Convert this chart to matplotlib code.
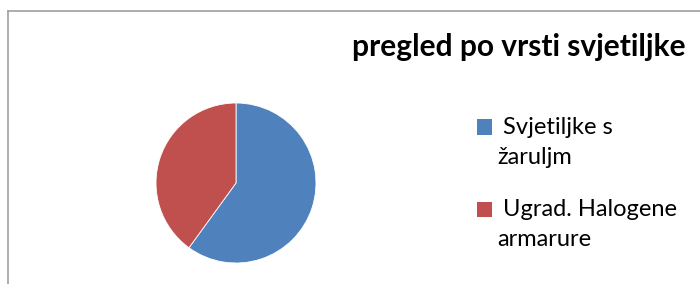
import matplotlib
matplotlib.use("Agg")
import matplotlib.pyplot as plt
from matplotlib.patches import Rectangle
from matplotlib.lines import Line2D

title = "pregled po vrsti svjetiljke"
labels = ["Svjetiljke s\nžaruljm", "Ugrad. Halogene\narmarure"]
values = [60, 40]
colors = ["#4F81BD", "#C0504D"]

W, H = 700, 284
fig = plt.figure(figsize=(7, 2.84), dpi=100)
fig.patch.set_facecolor("white")

def fx(px):
    return px / W

def fy(py):
    return 1 - py / H

# border (top and left visible)
fig.add_artist(Line2D([fx(8), fx(8)], [fy(11), 0], color="#a0a0a0", lw=1.2, transform=fig.transFigure))
fig.add_artist(Line2D([fx(8), 1], [fy(11), fy(11)], color="#a0a0a0", lw=1.2, transform=fig.transFigure))

cx, cy, r = 236, 183, 80
ax = fig.add_axes([fx(cx - r), fy(cy + r), 2 * r / W, 2 * r / H])
ax.pie(values, colors=colors, startangle=90, counterclock=False,
       wedgeprops=dict(edgecolor="white", linewidth=0.6))
ax.set_xlim(-1, 1)
ax.set_ylim(-1, 1)
ax.set_aspect("equal")
ax.axis("off")

fig.text(fx(519), fy(47), title, ha="center", va="center",
         fontsize=21.5, fontweight="bold", family="Lato")

square_y = [127, 209]
for lab, col, sy in zip(labels, colors, square_y):
    fig.add_artist(Rectangle((fx(477), fy(sy + 7.5)), 15 / W, 15 / H,
                             facecolor=col, edgecolor="none", transform=fig.transFigure))
    first, second = lab.split("\n")
    fig.text(fx(503), fy(sy), first, ha="left", va="center", fontsize=17, family="Lato")
    fig.text(fx(497), fy(sy + 31), second, ha="left", va="center", fontsize=17, family="Lato")

fig.savefig("out.png", dpi=100, facecolor="white")
